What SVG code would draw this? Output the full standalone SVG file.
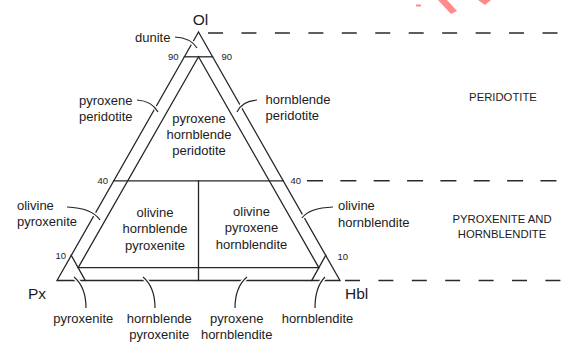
<svg xmlns="http://www.w3.org/2000/svg" width="578" height="347" viewBox="0 0 578 347">
  <style>
    .edge { fill: none; stroke: #262626; stroke-width: 1.3; stroke-linecap: square; }
    .dash { fill: none; stroke: #2a2a2a; stroke-width: 1.4; }
    .halo { fill: none; stroke: #ffffff; stroke-width: 4; stroke-linecap: butt; }
    .lead { fill: none; stroke: #262626; stroke-width: 1.2; }
    .lbl { font-family: "Liberation Sans", Arial, sans-serif; font-size: 13px; fill: #1c1c1c; }
    .num { font-family: "Liberation Sans", Arial, sans-serif; font-size: 9.5px; fill: #1c1c1c; }
    .apex { font-family: "Liberation Sans", Arial, sans-serif; font-size: 15.5px; fill: #1c1c1c; }
    .cap { font-family: "Liberation Sans", Arial, sans-serif; font-size: 11.3px; fill: #1c1c1c; }
    .mid { text-anchor: middle; }
    .end { text-anchor: end; }
  </style>
  <rect width="578" height="347" fill="#ffffff"/>

  <!-- red mark fragments at the top edge -->
  <g id="mark" fill="#ff8a8a">
    <polygon points="438,0 447,0 457,11 451,14"/>
    <polygon points="478,0 491,0 485,5"/>
    <rect x="416" y="4.5" width="5" height="2"/>
  </g>

  <!-- class boundaries: horizontal dashed guides -->
  <g id="guides">
    <line class="dash" x1="208" y1="33" x2="560" y2="33" stroke-dasharray="15 18.45"/>
    <line class="dash" x1="307" y1="180.8" x2="560" y2="180.8" stroke-dasharray="16 17.35"/>
    <line class="dash" x1="345" y1="280.5" x2="562" y2="280.5" stroke-dasharray="15 18.4"/>
  </g>

  <!-- ternary frame Ol - Px - Hbl -->
  <g id="frame">
    <polygon class="edge" points="198.5,32 57,280.5 340,280.5"/>
    <line class="edge" x1="184.4" y1="56.8" x2="212.6" y2="56.8"/>
    <line class="edge" x1="113.6" y1="180.8" x2="283.4" y2="180.8"/>
  </g>

  <!-- field boundaries inside the triangle -->
  <g id="fields">
    <polygon class="edge" points="198.5,56.8 78.2,267.6 318.8,267.6"/>
    <line class="edge" x1="198.5" y1="180.8" x2="198.5" y2="280.5"/>
    <line class="edge" x1="71.2" y1="255.2" x2="85.3" y2="280.5"/>
    <line class="edge" x1="325.8" y1="255.2" x2="311.7" y2="280.5"/>
  </g>

  <!-- label leaders -->
  <g id="connectors">
    <path class="halo" d="M178,37.5 Q191,38.5 197,48"/>
    <path class="lead" d="M175,37 Q191,38 197,48"/>
    <path class="halo" d="M140,100.5 Q152,101 158,112"/>
    <path class="lead" d="M137,100 Q152,101 158,112"/>
    <path class="halo" d="M254,100.5 Q242,101 237,112"/>
    <path class="lead" d="M257,100 Q242,101 237,112"/>
    <path class="halo" d="M70,207 Q92,208 100,220"/>
    <path class="lead" d="M67,207 Q92,208 100,220"/>
    <path class="halo" d="M330,207 Q309,208 302,218"/>
    <path class="lead" d="M333,207 Q309,208 302,218"/>
    <path class="halo" d="M74,277 Q86,287 86,305"/>
    <path class="lead" d="M74,277 Q86,287 86,308"/>
    <path class="halo" d="M143,277 Q155,287 155,305"/>
    <path class="lead" d="M143,277 Q155,287 155,308"/>
    <path class="halo" d="M247,277 Q235,287 235,305"/>
    <path class="lead" d="M247,277 Q235,287 235,308"/>
    <path class="halo" d="M325,277 Q315,287 315,305"/>
    <path class="lead" d="M325,277 Q315,287 315,308"/>
  </g>

  <!-- end members -->
  <g id="node-ol"><text class="apex mid" x="200.5" y="24.5">Ol</text></g>
  <g id="node-px"><text class="apex" x="28" y="298.5">Px</text></g>
  <g id="node-hbl"><text class="apex" x="345" y="298.5">Hbl</text></g>

  <!-- percentage ticks -->
  <g id="ticks">
    <text class="num end" x="178.5" y="60">90</text>
    <text class="num" x="221.5" y="60">90</text>
    <text class="num end" x="108" y="184">40</text>
    <text class="num" x="290.5" y="184">40</text>
    <text class="num end" x="66" y="258.5">10</text>
    <text class="num" x="337.5" y="259.5">10</text>
  </g>

  <!-- rock names -->
  <g id="node-dunite"><text class="lbl" x="135" y="41.5">dunite</text></g>
  <g id="node-px-peridotite">
    <text class="lbl end" x="132.5" y="104.5">pyroxene</text>
    <text class="lbl end" x="132.5" y="120.5">peridotite</text>
  </g>
  <g id="node-hbl-peridotite">
    <text class="lbl" x="265.5" y="104">hornblende</text>
    <text class="lbl" x="265.5" y="120">peridotite</text>
  </g>
  <g id="node-px-hbl-peridotite">
    <text class="lbl mid" x="199" y="123">pyroxene</text>
    <text class="lbl mid" x="199" y="139">hornblende</text>
    <text class="lbl mid" x="199" y="155">peridotite</text>
  </g>
  <g id="node-ol-pyroxenite">
    <text class="lbl" x="17" y="210">olivine</text>
    <text class="lbl" x="17" y="226">pyroxenite</text>
  </g>
  <g id="node-ol-hbl-pyroxenite">
    <text class="lbl mid" x="155" y="216.5">olivine</text>
    <text class="lbl mid" x="155" y="233">hornblende</text>
    <text class="lbl mid" x="155" y="249.5">pyroxenite</text>
  </g>
  <g id="node-ol-px-hornblendite">
    <text class="lbl mid" x="251.5" y="215.5">olivine</text>
    <text class="lbl mid" x="251.5" y="232">pyroxene</text>
    <text class="lbl mid" x="251.5" y="248.5">hornblendite</text>
  </g>
  <g id="node-ol-hornblendite">
    <text class="lbl" x="338" y="210">olivine</text>
    <text class="lbl" x="338" y="226.5">hornblendite</text>
  </g>
  <g id="node-pyroxenite"><text class="lbl mid" x="83.3" y="322.5">pyroxenite</text></g>
  <g id="node-hbl-pyroxenite">
    <text class="lbl mid" x="159.3" y="322.5">hornblende</text>
    <text class="lbl mid" x="159.3" y="338.5">pyroxenite</text>
  </g>
  <g id="node-px-hornblendite">
    <text class="lbl mid" x="236.7" y="322.5">pyroxene</text>
    <text class="lbl mid" x="236.7" y="338.5">hornblendite</text>
  </g>
  <g id="node-hornblendite"><text class="lbl mid" x="317.5" y="322.5">hornblendite</text></g>

  <!-- rock groups -->
  <g id="group-peridotite"><text class="cap mid" x="503" y="100.5">PERIDOTITE</text></g>
  <g id="group-pyroxenite-hornblendite">
    <text class="cap mid" x="502" y="223">PYROXENITE AND</text>
    <text class="cap mid" x="502" y="238">HORNBLENDITE</text>
  </g>
</svg>
